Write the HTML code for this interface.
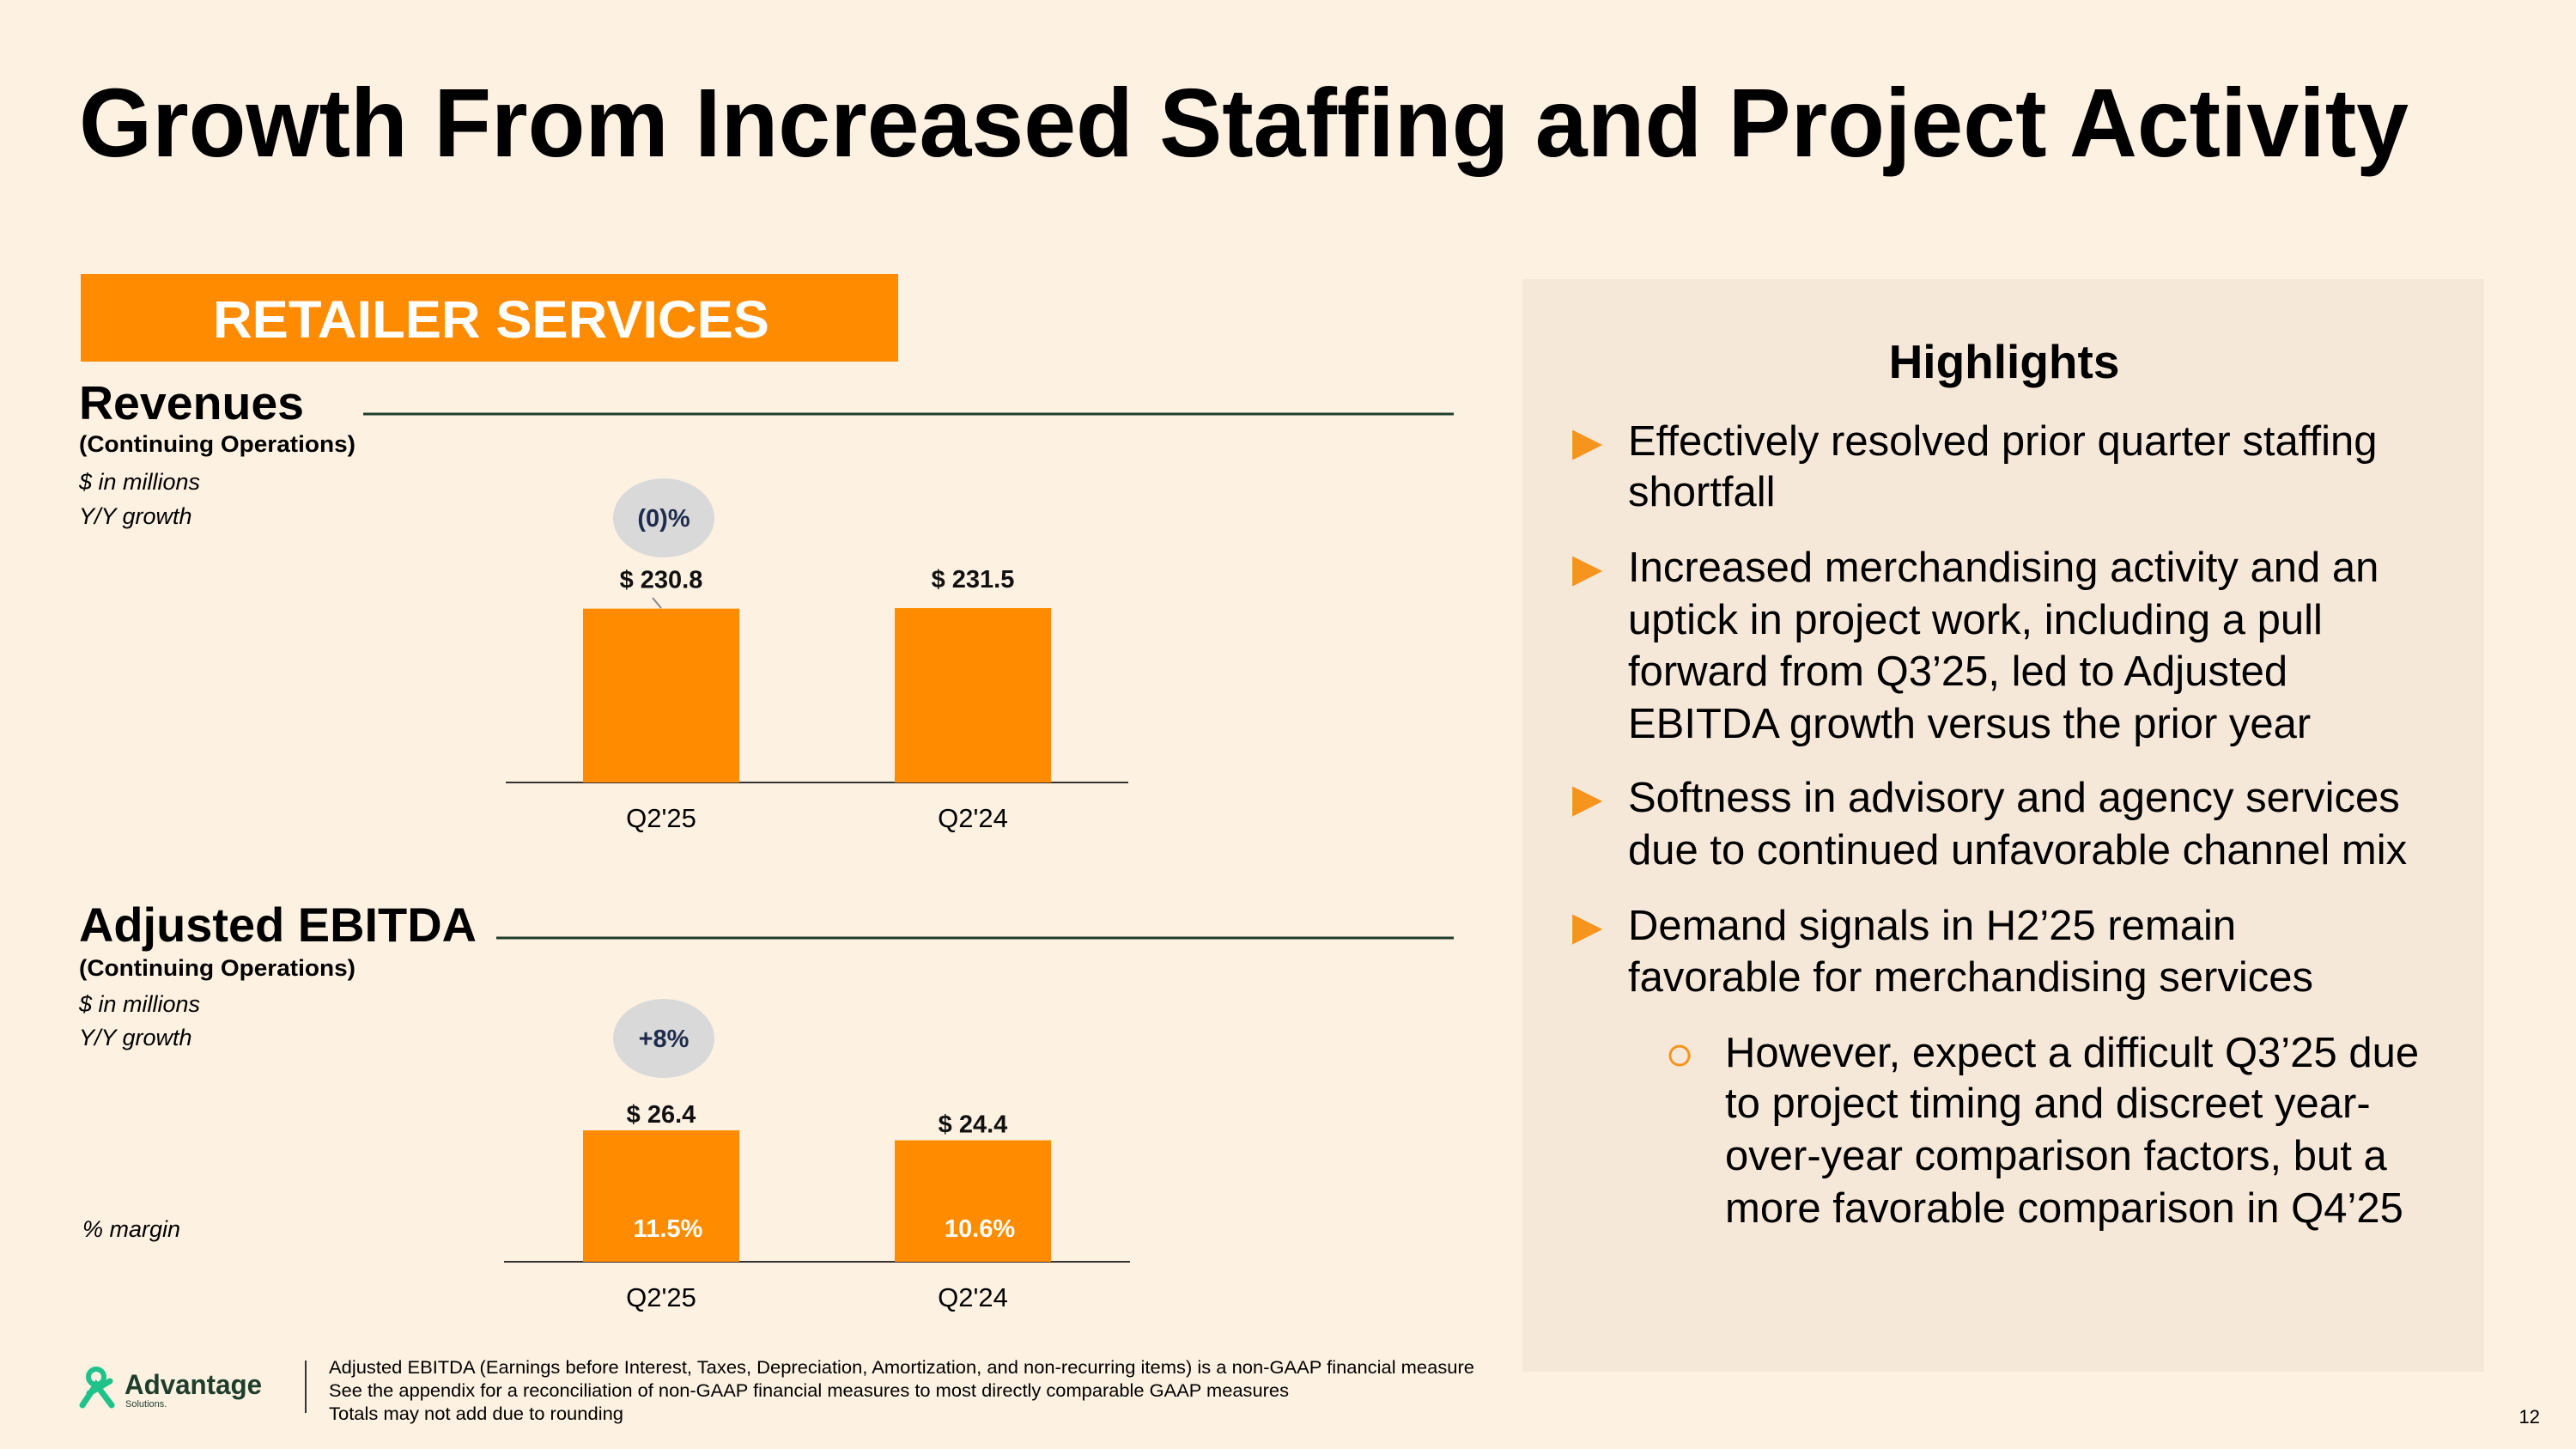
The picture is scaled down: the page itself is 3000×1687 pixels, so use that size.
<!DOCTYPE html>
<html><head><meta charset="utf-8"><style>
html,body{margin:0;padding:0;background:#fdf1e2;}
svg{display:block;font-family:"Liberation Sans",Arial,sans-serif;}
</style></head><body>
<svg id="s" width="3000" height="1687" viewBox="0 0 3000 1687" xmlns="http://www.w3.org/2000/svg">
<rect x="0" y="0" width="3000" height="1687" fill="#fdf1e2"/>
<text x="92" y="182" font-size="113" font-weight="bold" fill="#000" textLength="2713" lengthAdjust="spacingAndGlyphs">Growth From Increased Staffing and Project Activity</text>

<rect x="94" y="319" width="952" height="102" fill="#ff8c00"/>
<text x="572" y="393" font-size="61" font-weight="bold" fill="#fff" text-anchor="middle" textLength="648" lengthAdjust="spacingAndGlyphs">RETAILER SERVICES</text>

<g>
<text x="92" y="488" font-size="55" font-weight="bold" fill="#000" textLength="262" lengthAdjust="spacingAndGlyphs">Revenues</text>
<line x1="423" y1="482" x2="1693" y2="482" stroke="#1f3d2b" stroke-width="3"/>
<text x="92" y="526" font-size="27" font-weight="bold" textLength="322" lengthAdjust="spacingAndGlyphs">(Continuing Operations)</text>
<text x="92" y="570" font-size="27" font-style="italic">$ in millions</text>
<text x="92" y="610" font-size="27" font-style="italic">Y/Y growth</text>
<ellipse cx="773" cy="603" rx="59" ry="46" fill="#d9d9d9"/>
<text x="773" y="613" font-size="29" font-weight="bold" fill="#1f2d4d" text-anchor="middle">(0)%</text>
<line x1="760" y1="696" x2="770" y2="708" stroke="#888" stroke-width="2"/>
<g id="rev"></g>
</g>

<g>
<text x="92" y="1096" font-size="56" font-weight="bold" fill="#000" textLength="463" lengthAdjust="spacingAndGlyphs">Adjusted EBITDA</text>
<line x1="578" y1="1092" x2="1693" y2="1092" stroke="#1f3d2b" stroke-width="3"/>
<text x="92" y="1136" font-size="27" font-weight="bold" textLength="322" lengthAdjust="spacingAndGlyphs">(Continuing Operations)</text>
<text x="92" y="1178" font-size="27" font-style="italic">$ in millions</text>
<text x="92" y="1217" font-size="27" font-style="italic">Y/Y growth</text>
<ellipse cx="773" cy="1209" rx="59" ry="46" fill="#d9d9d9"/>
<text x="773" y="1219" font-size="29" font-weight="bold" fill="#1f2d4d" text-anchor="middle">+8%</text>
<text x="96" y="1440" font-size="27" font-style="italic">% margin</text>
<g id="ebi"></g>
</g>

<g>
<rect x="1773" y="325" width="1120" height="1272" fill="#f6e8d9"/>
<text x="2334" y="440" font-size="55" font-weight="bold" text-anchor="middle">Highlights</text>
<g font-size="49" fill="#000">
<text x="1831" y="530" fill="#f7941d" font-size="46">▶</text>
<text x="1896" y="530">Effectively resolved prior quarter staffing</text>
<text x="1896" y="589">shortfall</text>
<text x="1831" y="677" fill="#f7941d" font-size="46">▶</text>
<text x="1896" y="677">Increased merchandising activity and an</text>
<text x="1896" y="738">uptick in project work, including a pull</text>
<text x="1896" y="798">forward from Q3’25, led to Adjusted</text>
<text x="1896" y="859">EBITDA growth versus the prior year</text>
<text x="1831" y="945" fill="#f7941d" font-size="46">▶</text>
<text x="1896" y="945">Softness in advisory and agency services</text>
<text x="1896" y="1006">due to continued unfavorable channel mix</text>
<text x="1831" y="1094" fill="#f7941d" font-size="46">▶</text>
<text x="1896" y="1094">Demand signals in H2’25 remain</text>
<text x="1896" y="1154">favorable for merchandising services</text>
<circle cx="1956" cy="1229" r="11" fill="none" stroke="#f7941d" stroke-width="3"/>
<text x="2009" y="1242">However, expect a difficult Q3’25 due</text>
<text x="2009" y="1301">to project timing and discreet year-</text>
<text x="2009" y="1362">over-year comparison factors, but a</text>
<text x="2009" y="1423">more favorable comparison in Q4’25</text>
</g>
</g>

<g>
<circle cx="112" cy="1603" r="9" fill="none" stroke="#1fc28a" stroke-width="6"/>
<path d="M96 1636 L112 1612 L130 1636 M104 1622 L128 1608" fill="none" stroke="#1fc28a" stroke-width="7" stroke-linecap="round"/>
<text x="145" y="1623" font-size="32" font-weight="bold" fill="#1f3d2b" textLength="160" lengthAdjust="spacingAndGlyphs">Advantage</text>
<text x="146" y="1638" font-size="11" fill="#1f3d2b">Solutions.</text>
</g>
<line x1="356" y1="1584" x2="356" y2="1645" stroke="#333" stroke-width="2"/>
<g font-size="21" fill="#000">
<text x="383" y="1599" textLength="1334" lengthAdjust="spacingAndGlyphs">Adjusted EBITDA (Earnings before Interest, Taxes, Depreciation, Amortization, and non-recurring items) is a non-GAAP financial measure</text>
<text x="383" y="1626" textLength="1118" lengthAdjust="spacingAndGlyphs">See the appendix for a reconciliation of non-GAAP financial measures to most directly comparable GAAP measures</text>
<text x="383" y="1653" textLength="343" lengthAdjust="spacingAndGlyphs">Totals may not add due to rounding</text>
</g>
<text x="2958" y="1657" font-size="22" text-anchor="end">12</text>
</svg>
<script>
const revCategories = ["Q2'25", "Q2'24"];
const revValues = [230.8, 231.5];
const revLabels = ["$ 230.8", "$ 231.5"];
const ebitdaCategories = ["Q2'25", "Q2'24"];
const ebitdaValues = [26.4, 24.4];
const ebitdaLabels = ["$ 26.4", "$ 24.4"];
const ebitdaMargins = ["11.5%", "10.6%"];

const NS = "http://www.w3.org/2000/svg";
function mk(tag, attrs, parent) {
  const e = document.createElementNS(NS, tag);
  for (const k in attrs) e.setAttribute(k, attrs[k]);
  parent.appendChild(e);
  return e;
}
function drawChart(g, cats, vals, labels, margins, cfg) {
  const y = v => cfg.base - v * cfg.pxPerUnit;
  const x = i => cfg.firstCenter + i * cfg.step;
  const axis = mk('line', {x1: cfg.axisX1, x2: cfg.axisX2, y1: cfg.base, y2: cfg.base, stroke: '#333', 'stroke-width': 2}, g);
  
  
  cats.forEach((c, i) => {
    const r = mk('rect', {x: x(i) - cfg.barW / 2, y: y(vals[i]), width: cfg.barW, height: cfg.base - y(vals[i]), fill: '#ff8c00'}, g);
    
    
    const t = mk('text', {x: x(i), y: y(vals[i]) - cfg.labelGap, 'font-size': 29, 'font-weight': 'bold', 'text-anchor': 'middle', fill: '#111'}, g);
    t.textContent = labels[i];
    
    
    const cl = mk('text', {x: x(i), y: cfg.base + 52, 'font-size': 31, 'text-anchor': 'middle', fill: '#000'}, g);
    cl.textContent = c;
    
    
    if (margins) {
      const m = mk('text', {x: x(i) + 8, y: cfg.base - 29, 'font-size': 29, 'font-weight': 'bold', 'text-anchor': 'middle', fill: '#fff'}, g);
      m.textContent = margins[i];
      
      
    }
  });
}
drawChart(document.getElementById('rev'), revCategories, revValues, revLabels, null,
  {base: 911, pxPerUnit: 203 / 231.5, firstCenter: 770, step: 363, barW: 182, axisX1: 589, axisX2: 1314, prefix: 'revenue', labelGap: 24});
drawChart(document.getElementById('ebi'), ebitdaCategories, ebitdaValues, ebitdaLabels, ebitdaMargins,
  {base: 1469, pxPerUnit: 153 / 26.4, firstCenter: 770, step: 363, barW: 182, axisX1: 587, axisX2: 1316, prefix: 'ebitda', labelGap: 9});
</script>
</body></html>
